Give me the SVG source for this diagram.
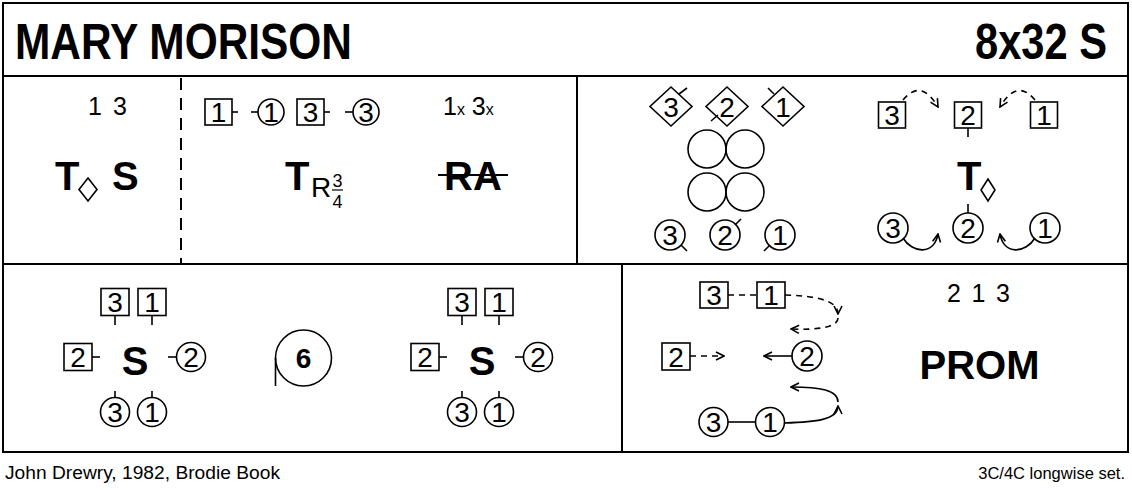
<svg xmlns="http://www.w3.org/2000/svg" width="1132" height="490" viewBox="0 0 1132 490">
<style>
text{font-family:"Liberation Sans",Arial,sans-serif;fill:#000}
.n{font-size:28px;text-anchor:middle}
.big{font-size:40px;font-weight:bold}
.sm{font-size:25px}
.bx{fill:#fff;stroke:#000;stroke-width:1.6}
.ci{fill:#fff;stroke:#000;stroke-width:1.6}
.ln{fill:none;stroke:#000;stroke-width:1.6}
.ds{fill:none;stroke:#000;stroke-width:1.6;stroke-dasharray:6 5}
.fr{fill:none;stroke:#000;stroke-width:2}
</style>
<defs>
<marker id="ah" viewBox="0 0 10 10" refX="9" refY="5" markerWidth="10" markerHeight="10" markerUnits="userSpaceOnUse" orient="auto">
<path d="M1,1 L9,5 L1,9" fill="none" stroke="#000" stroke-width="1.6"/>
</marker>
</defs>
<rect width="1132" height="490" fill="#fff"/>
<g id="frame">
<rect class="fr" x="3" y="3" width="1125" height="449"/>
<line class="fr" x1="3" y1="76" x2="1128" y2="76"/>
<line class="fr" x1="3" y1="264" x2="1128" y2="264"/>
<line class="fr" x1="577" y1="76" x2="577" y2="264"/>
<line class="fr" x1="622" y1="264" x2="622" y2="452"/>
<line x1="181" y1="78" x2="181" y2="264" stroke="#000" stroke-width="2" stroke-dasharray="12 8"/>
</g>
<g id="title">
<text x="15" y="59" font-size="50" font-weight="bold" textLength="337" lengthAdjust="spacingAndGlyphs">MARY MORISON</text>
<text x="1107" y="59" font-size="50" font-weight="bold" text-anchor="end" textLength="132" lengthAdjust="spacingAndGlyphs">8x32 S</text>
</g>
<g id="footer">
<text x="5" y="479" font-size="18" textLength="275" lengthAdjust="spacingAndGlyphs">John Drewry, 1982, Brodie Book</text>
<text x="1125" y="479" font-size="16.5" text-anchor="end">3C/4C longwise set.</text>
</g>
<g id="p1">
<text class="sm" x="88" y="115" textLength="39" lengthAdjust="spacing">1 3</text>
<text class="big" x="55" y="190">T</text>
<path class="ln" d="M88,178 L97,189.5 L88,201 L79,189.5 Z"/>
<text class="big" x="112" y="190">S</text>
</g>
<g id="p2">
<rect class="bx" x="205" y="99" width="27" height="26"/>
<text class="n" x="218.5" y="122">1</text>
<line class="ln" x1="232" y1="112" x2="238" y2="112"/>
<line class="ln" x1="251" y1="112" x2="258" y2="112"/>
<circle class="ci" cx="271" cy="112" r="13"/>
<text class="n" x="271" y="122">1</text>
<rect class="bx" x="297" y="99" width="27" height="26"/>
<text class="n" x="310.5" y="122">3</text>
<line class="ln" x1="324" y1="112" x2="330" y2="112"/>
<line class="ln" x1="345" y1="112" x2="353" y2="112"/>
<circle class="ci" cx="366" cy="112" r="13"/>
<text class="n" x="366" y="122">3</text>
<text class="big" x="285" y="190">T</text>
<text x="311" y="197" font-size="28">R</text>
<text x="337.5" y="187" font-size="18" text-anchor="middle">3</text>
<line x1="332" y1="190" x2="343" y2="190" stroke="#000" stroke-width="1.2"/>
<text x="337.5" y="208" font-size="18" text-anchor="middle">4</text>
<text class="sm" x="443" y="115">1<tspan font-size="16">x</tspan> 3<tspan font-size="16">x</tspan></text>
<text class="big" x="444" y="190">RA</text>
<line x1="438" y1="175" x2="508" y2="175" stroke="#000" stroke-width="2"/>
</g>
<g id="p3">
<path class="bx" d="M671,87 L692,106.5 L671,126 L650,106.5 Z"/>
<text class="n" x="671" y="116.5">3</text>
<line class="ln" x1="679" y1="94" x2="687" y2="88"/>
<path class="bx" d="M727,87 L748,106.5 L727,126 L706,106.5 Z"/>
<text class="n" x="727" y="116.5">2</text>
<line class="ln" x1="718" y1="115" x2="711" y2="121"/>
<path class="bx" d="M783,87 L804,106.5 L783,126 L762,106.5 Z"/>
<text class="n" x="783" y="116.5">1</text>
<line class="ln" x1="774" y1="94" x2="768" y2="88"/>
<circle class="ln" cx="707" cy="149" r="19"/>
<circle class="ln" cx="745" cy="149" r="19"/>
<circle class="ln" cx="707" cy="192" r="19"/>
<circle class="ln" cx="745" cy="192" r="19"/>
<circle class="ci" cx="670" cy="235" r="15"/>
<text class="n" x="670" y="245">3</text>
<line class="ln" x1="681" y1="245" x2="687" y2="251"/>
<circle class="ci" cx="725" cy="235" r="15"/>
<text class="n" x="725" y="245">2</text>
<line class="ln" x1="735" y1="225" x2="741" y2="219"/>
<circle class="ci" cx="780" cy="235" r="15"/>
<text class="n" x="780" y="245">1</text>
<line class="ln" x1="770" y1="245" x2="764" y2="251"/>
</g>
<g id="p4">
<rect class="bx" x="878.5" y="102" width="27" height="26"/>
<text class="n" x="892" y="125">3</text>
<rect class="bx" x="954.5" y="102" width="27" height="26"/>
<text class="n" x="968" y="125">2</text>
<rect class="bx" x="1030.5" y="102" width="27" height="26"/>
<text class="n" x="1044" y="125">1</text>
<line class="ln" x1="968" y1="128" x2="968" y2="137"/>
<text class="big" x="957" y="190">T</text>
<path class="ln" d="M988,179 L995,190 L988,201 L981,190 Z"/>
<line class="ln" x1="968" y1="204" x2="968" y2="213"/>
<circle class="ci" cx="893" cy="228" r="15"/>
<text class="n" x="893" y="238">3</text>
<circle class="ci" cx="968" cy="228" r="15"/>
<text class="n" x="968" y="238">2</text>
<circle class="ci" cx="1045" cy="228" r="15"/>
<text class="n" x="1045" y="238">1</text>
</g>
<g id="p5">
<rect class="bx" x="101" y="288.5" width="28" height="27"/>
<text class="n" x="115" y="312">3</text>
<rect class="bx" x="138" y="288.5" width="28" height="27"/>
<text class="n" x="152" y="312">1</text>
<line class="ln" x1="115" y1="316" x2="115" y2="325"/>
<line class="ln" x1="152" y1="316" x2="152" y2="325"/>
<rect class="bx" x="64" y="343.5" width="28" height="27"/>
<text class="n" x="78" y="367">2</text>
<line class="ln" x1="92" y1="357" x2="100" y2="357"/>
<text class="big" x="135" y="375" text-anchor="middle">S</text>
<line class="ln" x1="168" y1="357" x2="176" y2="357"/>
<circle class="ci" cx="191" cy="357" r="14.5"/>
<text class="n" x="191" y="367">2</text>
<line class="ln" x1="115" y1="391" x2="115" y2="398"/>
<line class="ln" x1="152" y1="391" x2="152" y2="398"/>
<circle class="ci" cx="115" cy="412" r="14.5"/>
<text class="n" x="115" y="422">3</text>
<circle class="ci" cx="152" cy="412" r="14.5"/>
<text class="n" x="152" y="422">1</text>
</g>
<g id="p6">
<circle class="ln" cx="303.5" cy="358" r="28"/>
<line class="ln" x1="275.5" y1="358" x2="275.5" y2="386"/>
<text x="303.5" y="368" font-size="28" font-weight="bold" text-anchor="middle">6</text>
</g>
<g id="p7" transform="translate(347,0)">
<rect class="bx" x="101" y="288.5" width="28" height="27"/>
<text class="n" x="115" y="312">3</text>
<rect class="bx" x="138" y="288.5" width="28" height="27"/>
<text class="n" x="152" y="312">1</text>
<line class="ln" x1="115" y1="316" x2="115" y2="325"/>
<line class="ln" x1="152" y1="316" x2="152" y2="325"/>
<rect class="bx" x="64" y="343.5" width="28" height="27"/>
<text class="n" x="78" y="367">2</text>
<line class="ln" x1="92" y1="357" x2="100" y2="357"/>
<text class="big" x="135" y="375" text-anchor="middle">S</text>
<line class="ln" x1="168" y1="357" x2="176" y2="357"/>
<circle class="ci" cx="191" cy="357" r="14.5"/>
<text class="n" x="191" y="367">2</text>
<line class="ln" x1="115" y1="391" x2="115" y2="398"/>
<line class="ln" x1="152" y1="391" x2="152" y2="398"/>
<circle class="ci" cx="115" cy="412" r="14.5"/>
<text class="n" x="115" y="422">3</text>
<circle class="ci" cx="152" cy="412" r="14.5"/>
<text class="n" x="152" y="422">1</text>
</g>
<g id="p8">
<rect class="bx" x="700" y="282" width="28" height="26"/>
<text class="n" x="714" y="305">3</text>
<rect class="bx" x="757" y="282" width="28" height="26"/>
<text class="n" x="771" y="305">1</text>
<rect class="bx" x="662" y="343" width="28" height="27"/>
<text class="n" x="676" y="366.5">2</text>
<circle class="ci" cx="807" cy="356" r="15"/>
<text class="n" x="807" y="366">2</text>
<circle class="ci" cx="713.5" cy="422" r="14.5"/>
<text class="n" x="713.5" y="432">3</text>
<circle class="ci" cx="770" cy="422" r="14.5"/>
<text class="n" x="770" y="432">1</text>
<text class="sm" x="947" y="302" textLength="63" lengthAdjust="spacing">2 1 3</text>
<text class="big" x="979.5" y="379" text-anchor="middle">PROM</text>
</g>
<g id="connectors">
<path class="ds" d="M903,100 Q921,78 938,107" marker-end="url(#ah)"/>
<path class="ds" d="M1035,100 Q1017,78 1000,107" marker-end="url(#ah)"/>
<path class="ln" d="M903,238 C912,253 934,256 938,234" marker-end="url(#ah)"/>
<path class="ln" d="M1035,238 C1026,253 1004,256 1000,234" marker-end="url(#ah)"/>
<line class="ds" x1="728" y1="295" x2="757" y2="295"/>
<path class="ds" d="M785,295 C812,296 838,299 838,314" marker-end="url(#ah)"/>
<path class="ds" d="M838,318 C838,328 815,330 791,329" marker-end="url(#ah)"/>
<path class="ds" d="M690,356 L724,356" marker-end="url(#ah)"/>
<path class="ln" d="M792,356 L764,356" marker-end="url(#ah)"/>
<line class="ln" x1="728" y1="422" x2="755.5" y2="422"/>
<path class="ln" d="M784.5,423 C815,422 838,420 838,406" marker-end="url(#ah)"/>
<path class="ln" d="M838,402 C838,390 820,387 791,387" marker-end="url(#ah)"/>
</g>
</svg>
